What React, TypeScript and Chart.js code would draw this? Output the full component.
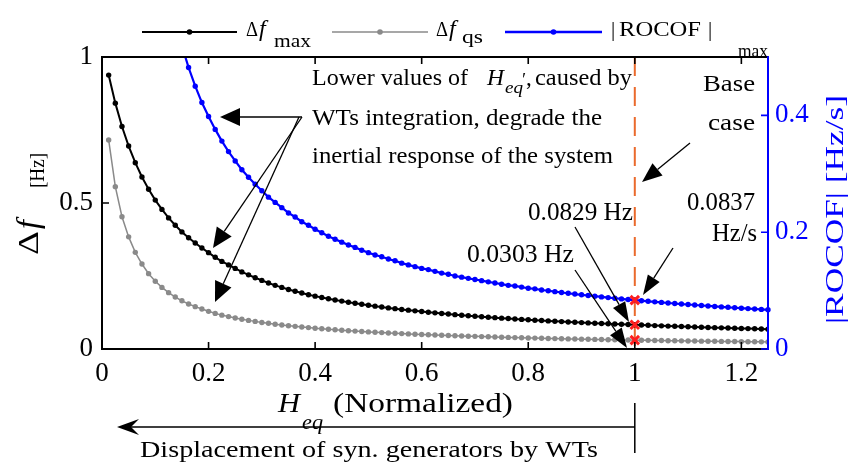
import React, { useEffect, useRef } from "react";
import { Chart, registerables } from "chart.js";

Chart.register(...registerables);

// H_eq (normalized) sample points
const H_VALUES = [
  0.0125, 0.025, 0.0375, 0.05, 0.0625, 0.075, 0.0875, 0.1, 0.1125, 0.125,
  0.1375, 0.15, 0.1625, 0.175, 0.1875, 0.2, 0.2125, 0.225, 0.2375, 0.25,
  0.2625, 0.275, 0.2875, 0.3, 0.3125, 0.325, 0.3375, 0.35, 0.3625, 0.375,
  0.3875, 0.4, 0.4125, 0.425, 0.4375, 0.45, 0.4625, 0.475, 0.4875, 0.5,
  0.5125, 0.525, 0.5375, 0.55, 0.5625, 0.575, 0.5875, 0.6, 0.6125, 0.625,
  0.6375, 0.65, 0.6625, 0.675, 0.6875, 0.7, 0.7125, 0.725, 0.7375, 0.75,
  0.7625, 0.775, 0.7875, 0.8, 0.8125, 0.825, 0.8375, 0.85, 0.8625, 0.875,
  0.8875, 0.9, 0.9125, 0.925, 0.9375, 0.95, 0.9625, 0.975, 0.9875, 1,
  1.0125, 1.025, 1.0375, 1.05, 1.0625, 1.075, 1.0875, 1.1, 1.1125, 1.125,
  1.1375, 1.15, 1.1625, 1.175, 1.1875, 1.2, 1.2125, 1.225, 1.2375, 1.25,
];

// Δf_max [Hz]
const DF_MAX = [
  0.938, 0.842, 0.762, 0.695, 0.638, 0.589, 0.547, 0.51, 0.478, 0.449,
  0.424, 0.401, 0.381, 0.363, 0.346, 0.33, 0.314, 0.3, 0.288, 0.276,
  0.264, 0.254, 0.244, 0.235, 0.226, 0.218, 0.211, 0.204, 0.198, 0.192,
  0.186, 0.181, 0.1765, 0.172, 0.168, 0.164, 0.16, 0.1566, 0.153, 0.15,
  0.1467, 0.1438, 0.1408, 0.1382, 0.1355, 0.133, 0.1306, 0.1283, 0.126, 0.1238,
  0.1217, 0.1197, 0.1177, 0.1157, 0.1139, 0.1121, 0.1105, 0.1088, 0.1073, 0.1057,
  0.1043, 0.1028, 0.1013, 0.1, 0.0987, 0.0975, 0.0962, 0.0951, 0.0938, 0.0927,
  0.0915, 0.0904, 0.0894, 0.0884, 0.0875, 0.0865, 0.0856, 0.0847, 0.0838, 0.0829,
  0.082, 0.0811, 0.0802, 0.0793, 0.0785, 0.0777, 0.0769, 0.0761, 0.0753, 0.0746,
  0.0738, 0.0731, 0.0724, 0.0717, 0.0711, 0.0704, 0.0698, 0.0691, 0.0685, 0.0679,
];

// Δf_qs [Hz]
const DF_QS = [
  0.716, 0.556, 0.453, 0.384, 0.331, 0.291, 0.258, 0.232, 0.211, 0.193,
  0.178, 0.165, 0.154, 0.145, 0.137, 0.129, 0.122, 0.116, 0.111, 0.106,
  0.102, 0.098, 0.0946, 0.091, 0.088, 0.0849, 0.0824, 0.0797, 0.0775, 0.0752,
  0.0733, 0.0713, 0.0693, 0.0675, 0.0658, 0.0642, 0.0627, 0.0613, 0.0599, 0.0586,
  0.0574, 0.0562, 0.0549, 0.0538, 0.0528, 0.0517, 0.0507, 0.0498, 0.0488, 0.048,
  0.0471, 0.0463, 0.0454, 0.0447, 0.0439, 0.0433, 0.0425, 0.0418, 0.0411, 0.0404,
  0.0397, 0.0391, 0.0385, 0.0379, 0.0373, 0.0367, 0.0362, 0.0356, 0.0351, 0.0346,
  0.0341, 0.0337, 0.0332, 0.0328, 0.0323, 0.0319, 0.0315, 0.0311, 0.0307, 0.0303,
  0.0299, 0.0296, 0.0292, 0.0289, 0.0285, 0.0282, 0.0279, 0.0275, 0.0272, 0.0269,
  0.0266, 0.0263, 0.0261, 0.0258, 0.0255, 0.0253, 0.025, 0.0247, 0.0245, 0.0242,
];

// |ROCOF|_max [Hz/s]
const ROCOF_MAX = [
  3.29, 2.21, 1.67, 1.34, 1.12, 0.96, 0.841, 0.748, 0.674, 0.613,
  0.562, 0.519, 0.482, 0.45, 0.422, 0.398, 0.376, 0.356, 0.338, 0.322,
  0.307, 0.294, 0.282, 0.271, 0.26, 0.251, 0.242, 0.233, 0.226, 0.218,
  0.212, 0.205, 0.199, 0.193, 0.188, 0.183, 0.178, 0.174, 0.169, 0.165,
  0.161, 0.158, 0.154, 0.151, 0.147, 0.144, 0.141, 0.138, 0.136, 0.133,
  0.13, 0.128, 0.125, 0.123, 0.121, 0.119, 0.117, 0.115, 0.113, 0.111,
  0.109, 0.108, 0.106, 0.104, 0.103, 0.101, 0.0997, 0.0982, 0.0968, 0.0955,
  0.0941, 0.0928, 0.0916, 0.0904, 0.0892, 0.088, 0.0869, 0.0858, 0.0847, 0.0837,
  0.0827, 0.0817, 0.0807, 0.0798, 0.0788, 0.0779, 0.077, 0.0762, 0.0753, 0.0745,
  0.0737, 0.0729, 0.0721, 0.0714, 0.0706, 0.0699, 0.0692, 0.0685, 0.0678, 0.0671,
];

// Base case (H_eq = 1)
const BASE_H = 1;
const BASE_DF_MAX = 0.0829;
const BASE_DF_QS = 0.0303;
const BASE_ROCOF = 0.0837;

const X_TICKS = [0, 0.2, 0.4, 0.6, 0.8, 1, 1.2];
const X_TICK_LABELS = ["0", "0.2", "0.4", "0.6", "0.8", "1", "1.2"];
const Y_TICKS = [0, 0.5, 1];
const Y_TICK_LABELS = ["0", "0.5", "1"];
const Y2_TICKS = [0, 0.2, 0.4];
const Y2_TICK_LABELS = ["0", "0.2", "0.4"];

const FONT = '"Liberation Serif", "DejaVu Serif", serif';
const BLUE = "#0000ff";
const GRAY = "#8a8a8a";
const RED = "#ff1e1e";
const ORANGE = "#ea6a2c";

type TOpts = { w?: number; it?: boolean; color?: string; rot?: boolean };

function txt(ctx: CanvasRenderingContext2D, s: string, x: number, y: number, size: number, o: TOpts = {}) {
  ctx.save();
  ctx.font = `${o.it ? "italic " : ""}${size}px ${FONT}`;
  ctx.fillStyle = o.color || "#000";
  ctx.textBaseline = "alphabetic";
  ctx.textAlign = "left";
  const nat = ctx.measureText(s).width;
  const sx = o.w ? o.w / nat : 1;
  ctx.translate(x, y);
  if (o.rot) ctx.rotate(-Math.PI / 2);
  ctx.scale(sx, 1);
  ctx.fillText(s, 0, 0);
  ctx.restore();
}

function arrow(ctx: CanvasRenderingContext2D, x1: number, y1: number, x2: number, y2: number, hl = 20, hw = 8) {
  const a = Math.atan2(y2 - y1, x2 - x1);
  const bx = x2 - hl * Math.cos(a);
  const by = y2 - hl * Math.sin(a);
  ctx.save();
  ctx.strokeStyle = "#000";
  ctx.fillStyle = "#000";
  ctx.lineWidth = 1.3;
  ctx.beginPath();
  ctx.moveTo(x1, y1);
  ctx.lineTo(bx, by);
  ctx.stroke();
  ctx.beginPath();
  ctx.moveTo(x2, y2);
  ctx.lineTo(bx + hw * Math.sin(a), by - hw * Math.cos(a));
  ctx.lineTo(bx - hw * Math.sin(a), by + hw * Math.cos(a));
  ctx.closePath();
  ctx.fill();
  ctx.restore();
}

const decoPlugin = {
  id: "deco",
  beforeDatasetsDraw(chart: any) {
    const { ctx, chartArea: ca, scales } = chart;
    const x = scales.x.getPixelForValue(BASE_H);
    ctx.save();
    ctx.strokeStyle = ORANGE;
    ctx.lineWidth = 2;
    ctx.setLineDash([19, 11]);
    ctx.beginPath();
    ctx.moveTo(x, ca.top);
    ctx.lineTo(x, ca.bottom);
    ctx.stroke();
    ctx.restore();
  },
  afterDraw(chart: any) {
    const { ctx, chartArea: ca, scales } = chart;
    const sx = scales.x, sy = scales.y, sy2 = scales.y2;
    ctx.save();
    // frame
    ctx.lineWidth = 2;
    ctx.strokeStyle = "#000";
    ctx.beginPath();
    ctx.moveTo(ca.right, ca.top);
    ctx.lineTo(ca.left, ca.top);
    ctx.lineTo(ca.left, ca.bottom);
    ctx.lineTo(ca.right, ca.bottom);
    ctx.stroke();
    ctx.strokeStyle = BLUE;
    ctx.beginPath();
    ctx.moveTo(ca.right, ca.top - 1);
    ctx.lineTo(ca.right, ca.bottom + 1);
    ctx.stroke();
    // inward ticks
    ctx.lineWidth = 1.6;
    ctx.strokeStyle = "#000";
    ctx.beginPath();
    X_TICKS.forEach((v) => {
      const p = sx.getPixelForValue(v);
      ctx.moveTo(p, ca.bottom);
      ctx.lineTo(p, ca.bottom - 7);
      ctx.moveTo(p, ca.top);
      ctx.lineTo(p, ca.top + 7);
    });
    Y_TICKS.forEach((v) => {
      const p = sy.getPixelForValue(v);
      ctx.moveTo(ca.left, p);
      ctx.lineTo(ca.left + 7, p);
    });
    ctx.stroke();
    ctx.strokeStyle = BLUE;
    ctx.beginPath();
    Y2_TICKS.forEach((v) => {
      const p = sy2.getPixelForValue(v);
      ctx.moveTo(ca.right, p);
      ctx.lineTo(ca.right - 7, p);
    });
    ctx.stroke();

    // legend
    const leg = (x1: number, x2: number, y: number, c: string, lw: number) => {
      ctx.strokeStyle = c;
      ctx.fillStyle = c;
      ctx.lineWidth = lw;
      ctx.beginPath();
      ctx.moveTo(x1, y);
      ctx.lineTo(x2, y);
      ctx.stroke();
      ctx.beginPath();
      ctx.arc((x1 + x2) / 2, y, 2.8, 0, Math.PI * 2);
      ctx.fill();
    };
    leg(142, 237, 32, "#000", 2.2);
    leg(332, 428, 32, GRAY, 1.6);
    leg(505, 602, 32, BLUE, 2.4);
    txt(ctx, "Δ", 246, 36, 21, { w: 12 });
    txt(ctx, "f", 259, 36, 24, { it: true });
    txt(ctx, "max", 274, 47, 18, { w: 37 });
    txt(ctx, "Δ", 436, 36, 21, { w: 12 });
    txt(ctx, "f", 449, 36, 24, { it: true });
    txt(ctx, "qs", 462, 43, 18, { w: 21 });
    txt(ctx, "|", 611, 36, 21);
    txt(ctx, "ROCOF", 619, 36, 21, { w: 82 });
    txt(ctx, "|", 708, 36, 21);
    txt(ctx, "max", 738, 57, 18, { w: 30 });

    // axis titles
    txt(ctx, "Δ", 38, 255, 30, { rot: true, w: 24 });
    txt(ctx, "f", 38, 229, 32, { rot: true, it: true });
    txt(ctx, "[Hz]", 44, 188, 22, { rot: true, w: 35 });
    txt(ctx, "|ROCOF| [Hz/s]", 843, 324, 26, { rot: true, w: 229, color: BLUE });
    txt(ctx, "H", 278, 412, 28, { it: true, w: 22 });
    txt(ctx, "eq", 302, 429, 20, { it: true, w: 21 });
    txt(ctx, "(Normalized)", 333, 412, 28, { w: 180 });

    // annotation texts
    txt(ctx, "Lower values of", 312, 85, 23, { w: 156 });
    txt(ctx, "H", 487, 85, 23, { it: true, w: 17 });
    txt(ctx, "eq", 505, 93, 17, { it: true, w: 18 });
    txt(ctx, "′", 521, 86, 18, { it: true });
    txt(ctx, ",", 526, 85, 23);
    txt(ctx, "caused by", 535, 85, 23, { w: 97 });
    txt(ctx, "WTs integration, degrade the", 312, 125, 23, { w: 290 });
    txt(ctx, "inertial response of the system", 312, 163, 23, { w: 301 });
    txt(ctx, "Base", 703, 91, 24, { w: 52 });
    txt(ctx, "case", 708, 130, 24, { w: 47 });
    txt(ctx, "0.0837", 687, 210, 25, { w: 68 });
    txt(ctx, "Hz/s", 712, 241, 25, { w: 45 });
    txt(ctx, "0.0829 Hz", 528, 220, 25, { w: 105 });
    txt(ctx, "0.0303 Hz", 467, 262, 25, { w: 107 });
    txt(ctx, "Displacement of syn. generators by WTs", 140, 457, 23, { w: 458 });

    // arrows
    arrow(ctx, 302, 117, 220, 117, 20, 9);
    arrow(ctx, 302, 117, 213, 248, 20, 9);
    arrow(ctx, 299, 117, 215, 302, 20, 9);
    arrow(ctx, 690, 143, 642, 182, 20, 8);
    arrow(ctx, 673, 248, 643, 295, 20, 7);
    arrow(ctx, 575, 227, 629, 322, 20, 7);
    arrow(ctx, 575, 270, 627, 348, 20, 7);

    // bottom displacement arrow
    const xb = sx.getPixelForValue(BASE_H);
    ctx.strokeStyle = "#000";
    ctx.fillStyle = "#000";
    ctx.lineWidth = 1.5;
    ctx.beginPath();
    ctx.moveTo(xb, 427);
    ctx.lineTo(125, 427);
    ctx.moveTo(xb, 403);
    ctx.lineTo(xb, 453);
    ctx.stroke();
    ctx.beginPath();
    ctx.moveTo(117, 427);
    ctx.lineTo(139, 419);
    ctx.lineTo(131, 427);
    ctx.lineTo(139, 435);
    ctx.closePath();
    ctx.fill();
    ctx.restore();
  },
};

export default function App() {
  const ref = useRef<HTMLCanvasElement>(null);
  useEffect(() => {
    const canvas = ref.current;
    if (!canvas) return;
    const pts = (arr: number[]) => H_VALUES.map((h, i) => ({ x: h, y: arr[i] }));
    const tickFont = { family: FONT, size: 27 };
    const labelFor = (ticks: number[], labels: string[]) => (v: any) => {
      const i = ticks.findIndex((t) => Math.abs(t - v) < 1e-9);
      return i >= 0 ? labels[i] : "";
    };
    const chart = new Chart(canvas, {
      type: "line",
      data: {
        datasets: [
          {
            label: "base-f",
            data: [
              { x: BASE_H, y: BASE_DF_MAX },
              { x: BASE_H, y: BASE_DF_QS },
            ],
            yAxisID: "y",
            showLine: false,
            pointStyle: "crossRot",
            pointRadius: 6,
            pointBorderWidth: 3,
            pointBorderColor: RED,
            pointBackgroundColor: RED,
            borderColor: RED,
          },
          {
            label: "base-r",
            data: [{ x: BASE_H, y: BASE_ROCOF }],
            yAxisID: "y2",
            showLine: false,
            pointStyle: "crossRot",
            pointRadius: 6,
            pointBorderWidth: 3,
            pointBorderColor: RED,
            pointBackgroundColor: RED,
            borderColor: RED,
          },
          {
            label: "Δf max",
            data: pts(DF_MAX),
            yAxisID: "y",
            borderColor: "#000",
            backgroundColor: "#000",
            borderWidth: 2,
            pointRadius: 2.7,
            pointBorderWidth: 0,
            pointBackgroundColor: "#000",
          },
          {
            label: "Δf qs",
            data: pts(DF_QS),
            yAxisID: "y",
            borderColor: GRAY,
            backgroundColor: GRAY,
            borderWidth: 1.5,
            pointRadius: 2.7,
            pointBorderWidth: 0,
            pointBackgroundColor: GRAY,
          },
          {
            label: "|ROCOF| max",
            data: pts(ROCOF_MAX),
            yAxisID: "y2",
            borderColor: BLUE,
            backgroundColor: BLUE,
            borderWidth: 2.2,
            pointRadius: 2.7,
            pointBorderWidth: 0,
            pointBackgroundColor: BLUE,
            clip: { left: 5, right: 5, top: 0, bottom: 5 },
          },
        ] as any,
      },
      options: {
        animation: false,
        responsive: false,
        events: [],
        layout: { padding: { top: 57, left: 0, right: 0, bottom: 0 } },
        plugins: { legend: { display: false }, tooltip: { enabled: false } },
        scales: {
          x: {
            type: "linear",
            min: 0,
            max: 1.25,
            afterBuildTicks: (s: any) => {
              s.ticks = X_TICKS.map((v) => ({ value: v }));
            },
            afterFit: (s: any) => {
              s.height = 115;
            },
            grid: { display: false, drawTicks: false },
            border: { display: false },
            ticks: {
              font: tickFont,
              color: "#000",
              padding: 9,
              maxRotation: 0,
              autoSkip: false,
              callback: labelFor(X_TICKS, X_TICK_LABELS),
            },
          },
          y: {
            type: "linear",
            position: "left",
            min: 0,
            max: 1,
            afterBuildTicks: (s: any) => {
              s.ticks = Y_TICKS.map((v) => ({ value: v }));
            },
            afterFit: (s: any) => {
              s.width = 102;
            },
            grid: { display: false, drawTicks: false },
            border: { display: false },
            ticks: { font: tickFont, color: "#000", padding: 9, callback: labelFor(Y_TICKS, Y_TICK_LABELS) },
          },
          y2: {
            type: "linear",
            position: "right",
            min: 0,
            max: 0.5,
            afterBuildTicks: (s: any) => {
              s.ticks = Y2_TICKS.map((v) => ({ value: v }));
            },
            afterFit: (s: any) => {
              s.width = 83;
            },
            grid: { display: false, drawTicks: false },
            border: { display: false },
            ticks: { font: tickFont, color: BLUE, padding: 7, callback: labelFor(Y2_TICKS, Y2_TICK_LABELS) },
          },
        },
      } as any,
      plugins: [decoPlugin],
    });
    return () => chart.destroy();
  }, []);
  return (
    <canvas
      ref={ref}
      width={851}
      height={464}
      style={{ position: "absolute", left: 0, top: 0, width: 851, height: 464 }}
    />
  );
}
